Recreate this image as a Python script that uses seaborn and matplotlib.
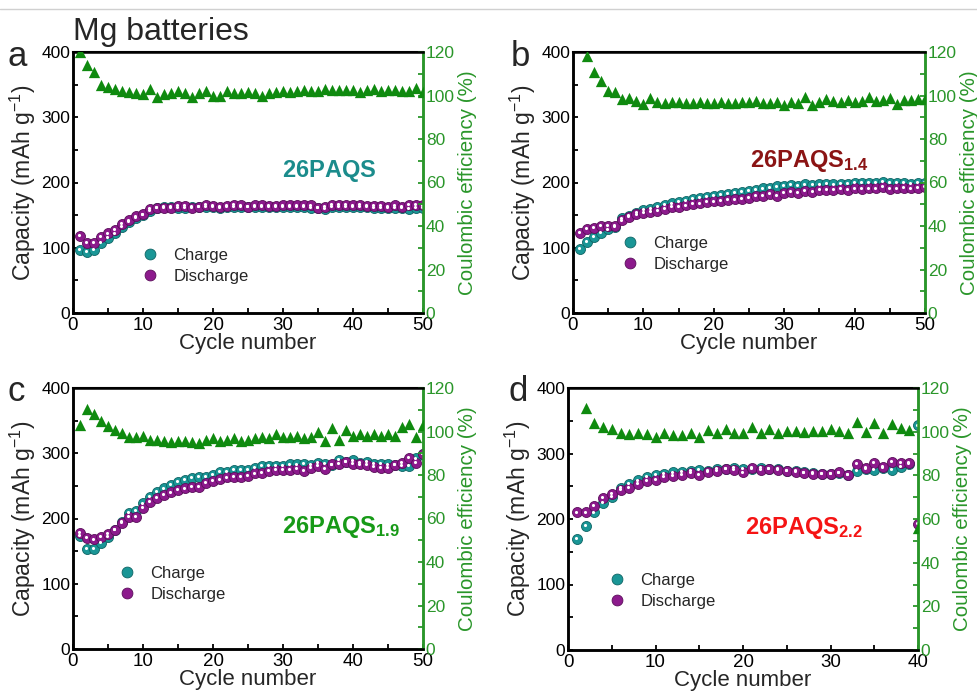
import numpy as np
import pandas as pd
import matplotlib
matplotlib.use("Agg")
import matplotlib.pyplot as plt
import seaborn as sns
from matplotlib.lines import Line2D
from matplotlib.transforms import offset_copy
from matplotlib.ticker import MultipleLocator

sns.set_theme(style="white")
plt.rcParams['font.family'] = ['Liberation Sans', 'DejaVu Sans']
plt.rcParams['mathtext.fontset'] = 'custom'
plt.rcParams['mathtext.rm'] = 'Liberation Sans'
plt.rcParams['mathtext.bf'] = 'Liberation Sans:bold'
plt.rcParams['mathtext.default'] = 'regular'

# ---------------- data ----------------
cycles_a = np.arange(1, 51)
charge_a = [97, 94, 97, 108, 115, 122, 132, 140, 146, 150, 157, 161, 162, 162, 161, 161, 162, 162, 163, 162,
            161, 162, 163, 162, 162, 163, 163, 162, 162, 162, 163, 163, 162, 161, 161, 160, 162, 163, 163, 163,
            162, 162, 161, 161, 161, 161, 161, 160, 161, 161]
discharge_a = [118, 108, 108, 117, 122, 127, 136, 142, 148, 151, 159, 161, 161, 161, 164, 164, 161, 163, 166, 164,
               162, 164, 166, 165, 163, 165, 165, 164, 164, 165, 165, 165, 165, 165, 161, 163, 166, 166, 166, 165,
               166, 164, 164, 164, 163, 165, 163, 166, 166, 165]
ce_a = [120, 114, 111, 105, 104, 103, 102, 101.5, 101, 100.5, 103, 99.5, 100.5, 101, 102, 101, 99.5, 101, 102, 100,
        100, 102, 101, 101, 101.5, 101, 100, 101, 101.5, 102, 101.5, 102, 102.5, 102, 102, 103, 102.5, 102.5, 102.5, 102.5,
        101.5, 102.5, 103, 102, 102.5, 102.5, 102, 102, 103.5, 101.5]

cycles_b = np.arange(1, 51)
charge_b = [98, 109, 116, 123, 128, 132, 145, 149, 154, 158, 160, 163, 166, 168, 170, 172, 175, 176, 178, 180,
            181, 182, 184, 185, 187, 189, 191, 192, 194, 195, 196, 195, 197, 196, 197, 198, 197, 198, 198, 199,
            199, 200, 200, 201, 199, 199, 199, 198, 199, 199]
discharge_b = [123, 129, 131, 134, 134, 133, 142, 147, 151, 153, 155, 157, 160, 162, 163, 165, 167, 168, 170, 171,
               172, 173, 174, 175, 177, 180, 180, 182, 180, 184, 185, 184, 187, 186, 188, 188, 189, 190, 188, 191,
               190, 191, 191, 193, 190, 191, 192, 191, 192, 193]
ce_b = [np.nan, 118, 111, 106.5, 102, 101.5, 98.5, 99, 97.5, 96, 99, 97, 96.5, 97, 97, 96.5, 96.5, 97, 96.5, 96.5,
        97, 96.5, 96.5, 97, 97, 97.5, 96.5, 96.5, 97, 95.5, 97, 96.5, 99.5, 95.5, 97, 98.5, 97.5, 97, 98, 97,
        97.5, 99.5, 97.5, 98, 99, 96, 98, 98, 98.5, 98.5]

cycles_c = np.arange(1, 51)
charge_c = [173, 154, 154, 162, 172, 183, 195, 208, 212, 223, 233, 241, 246, 252, 256, 259, 262, 264, 264, 267,
            272, 271, 274, 274, 274, 278, 280, 280, 281, 281, 283, 283, 284, 282, 285, 284, 282, 290, 287, 289,
            285, 287, 284, 284, 283, 282, 281, 280, 292, 299]
discharge_c = [178, 170, 168, 172, 176, 183, 193, 203, 203, 216, 225, 231, 236, 240, 244, 246, 249, 249, 255, 258,
               260, 263, 264, 264, 265, 269, 270, 273, 274, 274, 275, 276, 273, 278, 280, 276, 283, 284, 287, 284,
               283, 282, 279, 278, 278, 282, 285, 293, 285, 299]
ce_c = [103, 110.5, 108, 105, 102.5, 100.7, 99.2, 97.6, 97.6, 97.9, 96.3, 96.3, 95.8, 95.2, 95.8, 95.5, 95.2, 94.8, 96.3, 96.8,
        95.5, 96.3, 97.1, 95.5, 96.3, 97.1, 97.4, 96.8, 98.7, 97.4, 97.4, 97.9, 97.1, 97.4, 100, 95.8, 101.5, 96.3, 100.5, 97.9,
        98.7, 97.9, 98.7, 97.9, 98.7, 97.9, 102.2, 103.5, 97.5, 103]

cycles_d = np.arange(1, 41)
charge_d = [169, 189, 210, 225, 234, 247, 253, 259, 264, 267, 269, 271, 272, 274, 275, 274, 276, 277, 278, 277,
            276, 278, 276, 276, 274, 273, 271, 270, 269, 269, 270, 267, 273, 276, 275, 278, 275, 279, 284, 343]
discharge_d = [210, 210, 220, 232, 238, 244, 248, 254, 258, 260, 264, 266, 267, 270, 267, 272, 273, 276, 275, 271,
               278, 275, 276, 275, 274, 272, 270, 269, 269, 269, 271, 267, 284, 278, 286, 280, 287, 286, 286, 192]
ce_d = [np.nan, 110.7, 104, 102.3, 101, 99.2, 98.9, 99.5, 98.9, 97.7, 99.2, 98.4, 98.4, 99.5, 97.4, 100.8, 99.5, 101.1, 99.5, 99.2,
        102.1, 99.2, 101.1, 99.5, 100.4, 100.4, 100, 100.4, 100.4, 101.1, 100.4, 99.5, 104.6, 100, 103.8, 99.5, 103.4, 101.5, 100.8, 55.7]

labels = ['a', 'b', 'c', 'd']
samples = [r'$\mathbf{26PAQS}$', r'$\mathbf{26PAQS_{1.4}}$', r'$\mathbf{26PAQS_{1.9}}$', r'$\mathbf{26PAQS_{2.2}}$']
sample_colors = ['#1b8c8c', '#8b1414', '#179a17', '#f51414']
xmax = [50, 50, 50, 40]

# ---------------- style ----------------
TEAL = '#1a9696'
PURPLE = '#8c1a8c'
GREEN = '#0f8a0f'
AXGREEN = '#2a962a'

positions = [
    [73/977, 1-313/695, 350/977, 261/695],
    [573/977, 1-313/695, 352/977, 261/695],
    [73/977, 1-649/695, 350/977, 261/695],
    [568/977, 1-650/695, 350/977, 262/695],
]
sample_pos = [(0.597, 0.521), (0.503, 0.559), (0.597, 0.444), (0.506, 0.443)]
legend_pos = [(0.197, 0.18), (0.139, 0.226), (0.131, 0.249), (0.117, 0.225)]
letter_pos = [(0.008, 1-66/695), (0.523, 1-66/695), (0.008, 1-401/695), (0.520, 1-401/695)]

fig = plt.figure(figsize=(9.77, 6.95), dpi=100)
fig.add_artist(Line2D([0, 1], [1-9/695, 1-9/695], color='#d0d0d0', lw=1))

datasets = [
    (cycles_a, charge_a, discharge_a, ce_a),
    (cycles_b, charge_b, discharge_b, ce_b),
    (cycles_c, charge_c, discharge_c, ce_c),
    (cycles_d, charge_d, discharge_d, ce_d),
]

for i, (cyc, chg, dis, ce) in enumerate(datasets):
    ax = fig.add_axes(positions[i])
    ax2 = ax.twinx()
    df = pd.DataFrame({'cycle': cyc, 'charge': chg, 'discharge': dis, 'ce': ce})

    hl = offset_copy(ax.transData, fig=fig, x=-0.6, y=0.6, units='points')
    for col, c, edge in [('charge', TEAL, '#0e6464'), ('discharge', PURPLE, '#5a0e5a')]:
        sns.scatterplot(data=df, x='cycle', y=col, ax=ax, color=c, s=52,
                        edgecolor=edge, linewidth=0.6, zorder=3, legend=False)
        sns.scatterplot(data=df, x='cycle', y=col, ax=ax, color='white', s=5,
                        linewidth=0, zorder=4, legend=False, transform=hl)

    sns.scatterplot(data=df, x='cycle', y='ce', ax=ax2, color=GREEN, marker='^', s=66,
                    linewidth=0, zorder=3, legend=False)

    ax.set_xlim(0, xmax[i])
    ax.set_ylim(0, 400)
    ax2.set_ylim(0, 120)
    ax.xaxis.set_major_locator(MultipleLocator(10))
    ax.xaxis.set_minor_locator(MultipleLocator(5))
    ax.yaxis.set_major_locator(MultipleLocator(100))
    ax.yaxis.set_minor_locator(MultipleLocator(50))
    ax2.yaxis.set_major_locator(MultipleLocator(20))
    ax2.yaxis.set_minor_locator(MultipleLocator(10))

    ax.tick_params(axis='both', which='both', direction='in', length=3.5, width=1.3,
                   labelsize=12.5, colors='black', pad=2, top=False, right=False,
                   bottom=True, left=True)
    ax.tick_params(axis='x', which='major', labelsize=13.5, pad=3)
    ax.tick_params(axis='y', which='major', pad=2)
    ax2.tick_params(axis='y', which='both', direction='in', length=3.5, width=1.3,
                    labelsize=12.5, colors=AXGREEN, pad=2)

    for a in (ax, ax2):
        for s in a.spines.values():
            s.set_linewidth(1.8)
            s.set_color('black')
        a.spines['right'].set_color(AXGREEN)
    ax.spines['top'].set_linewidth(1.5)

    ax.set_xlabel('Cycle number', fontsize=16, labelpad=-1)
    ax.set_ylabel(r'Capacity (mAh g$^{-1}$)', fontsize=16.5, labelpad=2)
    ax2.set_ylabel('Coulombic efficiency (%)', fontsize=14.8, color=AXGREEN, labelpad=2)
    ax2.set_xlabel('')
    ax2.grid(False)
    ax.grid(False)

    ax.text(sample_pos[i][0], sample_pos[i][1], samples[i], transform=ax.transAxes,
            fontsize=17, color=sample_colors[i], ha='left', va='baseline')

    handles = [Line2D([], [], ls='', marker='o', markersize=7.8, color=TEAL, mec='#0e6464', mew=0.6),
               Line2D([], [], ls='', marker='o', markersize=7.8, color=PURPLE, mec='#5a0e5a', mew=0.6)]
    ax.legend(handles, ['Charge', 'Discharge'], loc='center left',
              bbox_to_anchor=legend_pos[i], frameon=False, fontsize=12,
              borderpad=0, handlelength=1.0, handletextpad=0.9, labelspacing=0.35,
              borderaxespad=0)

    fig.text(letter_pos[i][0], letter_pos[i][1], labels[i], fontsize=25, va='baseline', ha='left')

fig.text(73/977, 1-40/695, 'Mg batteries', fontsize=23, va='baseline', ha='left')

fig.savefig('out.png', dpi=100)
